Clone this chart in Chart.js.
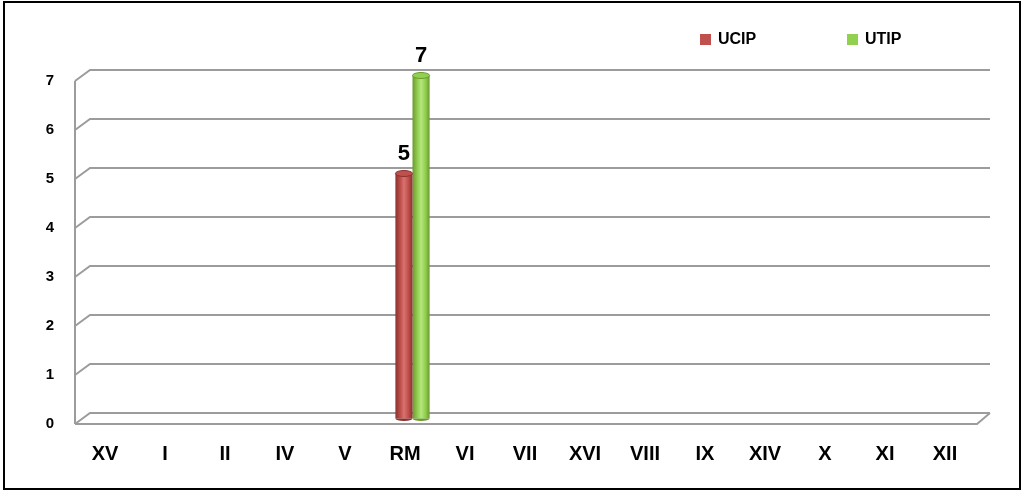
<!DOCTYPE html>
<html>
<head>
<meta charset="utf-8">
<script src="https://cdn.jsdelivr.net/npm/chart.js@4.4.1/dist/chart.umd.min.js"></script>
<style>
  html, body { margin: 0; padding: 0; background: #fff; }
  #wrap { position: relative; width: 1023px; height: 491px; }
  #frame { position: absolute; left: 3px; top: 1px; width: 1014px; height: 485px; border: 2px solid #000; pointer-events: none; }
  canvas { position: absolute; left: 0; top: 0; }
</style>
</head>
<body>
<div id="wrap">
  <canvas id="barChart" width="1023" height="491"></canvas>
  <div id="frame"></div>
</div>
<script>
// chart data
const categories = ['XV', 'I', 'II', 'IV', 'V', 'RM', 'VI', 'VII', 'XVI', 'VIII', 'IX', 'XIV', 'X', 'XI', 'XII'];
const seriesNames = ['UCIP', 'UTIP'];
const ucipValues = [0, 0, 0, 0, 0, 5, 0, 0, 0, 0, 0, 0, 0, 0, 0];
const utipValues = [0, 0, 0, 0, 0, 7, 0, 0, 0, 0, 0, 0, 0, 0, 0];
const yTicks = [0, 1, 2, 3, 4, 5, 6, 7];

const FONT = "'Liberation Sans', Arial, sans-serif";
const CAT_PCT = 0.57;
// depth of the fake 3D wall
const DEPTH_X = 15, DEPTH_Y = 11;

// colour shades for the cylinders: [dark, base, light]
const shades = [
    ['#8a312e', '#c0504d', '#d8736f'],
    ['#6b9a2e', '#92d050', '#b4e67c']
];

// horizontal gradient so the bars look round
function cylinder(c) {
    const chart = c.chart;
    const xs = chart.scales.x;
    const s = shades[c.datasetIndex];
    if (!xs || xs.width === undefined) return s[1];
    const center = xs.getPixelForValue(c.dataIndex);
    const w = (xs.getPixelForValue(1) - xs.getPixelForValue(0)) * CAT_PCT / 2;
    const x0 = c.datasetIndex === 0 ? center - w : center;
    const g = chart.ctx.createLinearGradient(x0, 0, x0 + w, 0);
    g.addColorStop(0, s[0]);
    g.addColorStop(0.3, s[1]);
    g.addColorStop(0.5, s[2]);
    g.addColorStop(0.75, s[1]);
    g.addColorStop(1, s[0]);
    return g;
}

const wallPlugin = {
    id: 'wall',
    beforeDatasetsDraw(chart) {
        const ctx = chart.ctx;
        const ys = chart.scales.y;
        const area = chart.chartArea;
        const left = area.left, right = area.right;
        ctx.save();
        ctx.strokeStyle = '#9c9c9c';
        ctx.lineWidth = 2;
        ctx.lineJoin = 'miter';
        yTicks.forEach(v => {
            const yf = ys.getPixelForValue(v);
            ctx.beginPath();
            ctx.moveTo(left, yf);
            ctx.lineTo(left + DEPTH_X, yf - DEPTH_Y);
            ctx.lineTo(right + DEPTH_X, yf - DEPTH_Y);
            ctx.stroke();
        });
        // front edge of the side wall
        ctx.beginPath();
        ctx.moveTo(left, ys.getPixelForValue(7));
        ctx.lineTo(left, ys.getPixelForValue(0));
        ctx.stroke();
        // floor
        const y0 = ys.getPixelForValue(0);
        ctx.beginPath();
        ctx.moveTo(left, y0);
        ctx.lineTo(right + 2, y0);
        ctx.lineTo(right + DEPTH_X, y0 - DEPTH_Y);
        ctx.stroke();
        ctx.restore();

        // bars sit in the middle of the depth
        ctx.save();
        ctx.translate(DEPTH_X / 2, -DEPTH_Y / 2);
    },
    afterDatasetsDraw(chart) {
        const ctx = chart.ctx;
        chart.data.datasets.forEach((ds, i) => {
            const meta = chart.getDatasetMeta(i);
            meta.data.forEach((el, j) => {
                if (!ds.data[j]) return;
                const rx = el.width / 2;
                // bottom and top caps
                ctx.fillStyle = shades[i][0];
                ctx.beginPath();
                ctx.ellipse(el.x, el.base, rx, 2.5, 0, 0, Math.PI);
                ctx.fill();
                ctx.fillStyle = shades[i][1];
                ctx.beginPath();
                ctx.ellipse(el.x, el.y, rx, 3, 0, 0, Math.PI * 2);
                ctx.fill();
                ctx.strokeStyle = shades[i][0];
                ctx.lineWidth = 1;
                ctx.stroke();
                // value label
                ctx.fillStyle = '#000';
                ctx.font = 'bold 22px ' + FONT;
                ctx.textAlign = 'center';
                ctx.textBaseline = 'alphabetic';
                ctx.fillText(String(ds.data[j]), el.x, el.y - 14);
            });
        });
        ctx.restore();
    },
    afterDraw(chart) {
        // legend
        const ctx = chart.ctx;
        const spots = [700, 847];
        ctx.save();
        ctx.font = 'bold 16px ' + FONT;
        ctx.textBaseline = 'middle';
        ctx.textAlign = 'left';
        chart.data.datasets.forEach((ds, i) => {
            ctx.fillStyle = shades[i][1];
            ctx.fillRect(spots[i], 34, 11, 11);
            ctx.fillStyle = '#000';
            ctx.fillText(ds.label, spots[i] + 18, 40);
        });
        ctx.restore();
    }
};

const barCtx = document.getElementById('barChart').getContext('2d');
new Chart(barCtx, {
    type: 'bar',
    data: {
        labels: categories,
        datasets: [
            { label: seriesNames[0], data: ucipValues, backgroundColor: cylinder, borderWidth: 0, clip: false },
            { label: seriesNames[1], data: utipValues, backgroundColor: cylinder, borderWidth: 0, clip: false }
        ]
    },
    options: {
        responsive: false,
        animation: false,
        events: [],
        layout: { padding: { top: 81, right: 48, left: 0, bottom: 0 } },
        datasets: { bar: { categoryPercentage: CAT_PCT, barPercentage: 1 } },
        plugins: {
            legend: { display: false },
            tooltip: { enabled: false }
        },
        scales: {
            x: {
                grid: { display: false, drawTicks: false },
                border: { display: false },
                ticks: { color: '#000', font: { family: FONT, size: 20, weight: 'bold' }, padding: 18, maxRotation: 0, autoSkip: false },
                afterFit: s => { s.height = 67; }
            },
            y: {
                min: 0,
                max: 7,
                grid: { display: false, drawTicks: false },
                border: { display: false },
                ticks: { stepSize: 1, color: '#000', font: { family: FONT, size: 15, weight: 'bold' }, padding: 21 },
                afterFit: s => { s.width = 75; }
            }
        }
    },
    plugins: [wallPlugin]
});
</script>
</body>
</html>
